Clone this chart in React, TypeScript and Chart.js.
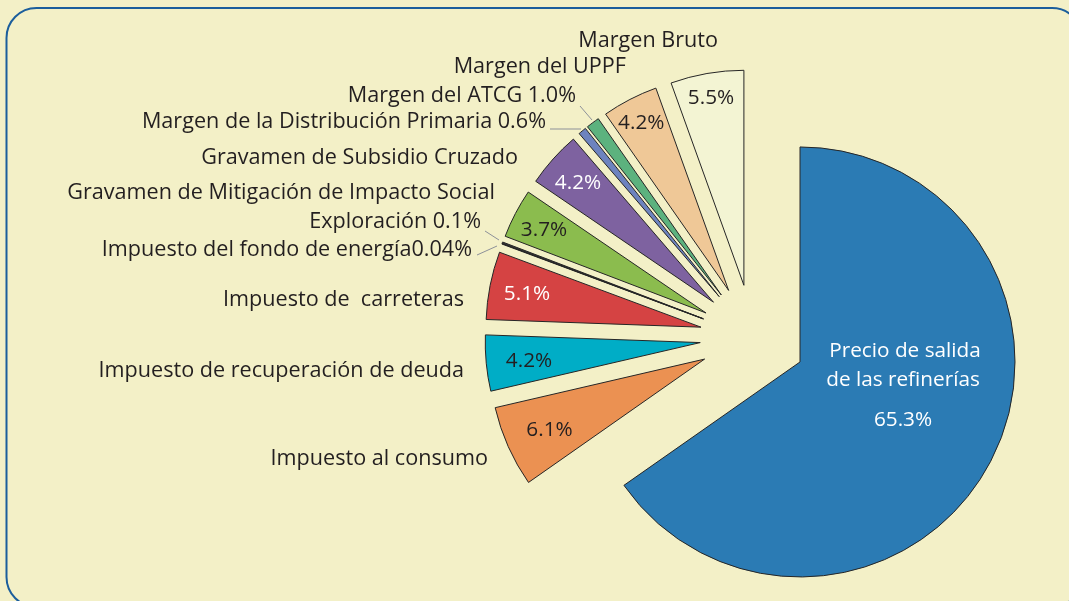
import React, { useEffect, useRef } from 'react';
import { Chart, registerables } from 'chart.js';

Chart.register(...registerables);

// ---------------- data ----------------
const categories = [
  'Precio de salida de las refinerías',
  'Impuesto al consumo',
  'Impuesto de recuperación de deuda',
  'Impuesto de  carreteras',
  'Impuesto del fondo de energía',
  'Exploración',
  'Gravamen de Mitigación de Impacto Social',
  'Gravamen de Subsidio Cruzado',
  'Margen de la Distribución Primaria',
  'Margen del ATCG',
  'Margen del UPPF',
  'Margen Bruto',
];
const shares = [65.3, 6.1, 4.2, 5.1, 0.04, 0.1, 3.7, 4.2, 0.6, 1.0, 4.2, 5.5];
const insideLabels = ['65.3%', '6.1%', '4.2%', '5.1%', '', '', '3.7%', '4.2%', '', '', '4.2%', '5.5%'];
const outsideLabels = [
  '',
  'Impuesto al consumo',
  'Impuesto de recuperación de deuda',
  'Impuesto de  carreteras',
  'Impuesto del fondo de energía0.04%',
  'Exploración 0.1%',
  'Gravamen de Mitigación de Impacto Social',
  'Gravamen de Subsidio Cruzado',
  'Margen de la Distribución Primaria 0.6%',
  'Margen del ATCG 1.0%',
  'Margen del UPPF',
  'Margen Bruto',
];
const mainLabelLines = ['Precio de salida', 'de las refinerías'];

// ---------------- styles ----------------
const SLICE_COLORS = [
  '#2b7bb4', '#eb9152', '#00adc6', '#d54343', '#2a2a2a', '#3a3a3a',
  '#8bbc4e', '#7e62a0', '#6d83bf', '#5cb27e', '#efc897', '#f3f4d3',
];
const INSIDE_TEXT_COLORS = [
  '#ffffff', '#231f20', '#231f20', '#ffffff', '', '', '#231f20', '#ffffff', '', '', '#231f20', '#231f20',
];
const LABEL_RADIUS_FRAC = [0, 0.79, 0.8, 0.825, 0, 0, 0.85, 0.845, 0, 0, 0.885, 0.89];
// right edge x / baseline y of outside labels
const OUTSIDE_POS: [number, number][] = [
  [0, 0], [488, 465], [464, 377], [464, 306], [472, 256], [481, 228],
  [495, 199], [518, 164], [546, 128], [576, 102], [626, 73], [718, 47],
];
const LEADERS: [number, number, number, number][] = [
  [580, 106, 592, 120],
  [550, 129, 581, 129],
  [485, 231, 499, 240],
  [477, 255, 497, 246],
];
const EXPLODE = 53;
const RADIUS = 215;
const BG = '#f3f0c7';
const FONT = '"Open Sans", "Noto Sans", sans-serif';

function fitSize(ctx: CanvasRenderingContext2D, text: string, width: number) {
  ctx.font = `20px ${FONT}`;
  const w = ctx.measureText(text).width;
  return (20 * width) / w;
}

const panelPlugin = {
  id: 'panel',
  beforeDraw(chart: any) {
    const ctx: CanvasRenderingContext2D = chart.ctx;
    ctx.save();
    ctx.fillStyle = BG;
    ctx.fillRect(0, 0, chart.width, chart.height);
    const x = 6.5, y = 8, w = 1075.5, h = 599, r = 30;
    ctx.beginPath();
    ctx.moveTo(x + r, y);
    ctx.lineTo(x + w - r, y);
    ctx.arcTo(x + w, y, x + w, y + r, r);
    ctx.lineTo(x + w, y + h - r);
    ctx.arcTo(x + w, y + h, x + w - r, y + h, r);
    ctx.lineTo(x + r, y + h);
    ctx.arcTo(x, y + h, x, y + h - r, r);
    ctx.lineTo(x, y + r);
    ctx.arcTo(x, y, x + r, y, r);
    ctx.closePath();
    ctx.lineWidth = 2;
    ctx.strokeStyle = '#1b5e9c';
    ctx.stroke();
    ctx.restore();
  },
};

const explodePlugin = {
  id: 'explode',
  beforeDatasetsDraw(chart: any) {
    const meta = chart.getDatasetMeta(0);
    meta.data.forEach((arc: any) => {
      if (arc.__exploded) return;
      const protoDraw = Object.getPrototypeOf(arc).draw;
      arc.draw = function (ctx: CanvasRenderingContext2D, area: any) {
        const mid = (this.startAngle + this.endAngle) / 2;
        ctx.save();
        ctx.translate(Math.cos(mid) * EXPLODE, Math.sin(mid) * EXPLODE);
        protoDraw.call(this, ctx, area);
        ctx.restore();
      };
      arc.__exploded = true;
    });
  },
};

const labelsPlugin = {
  id: 'sliceLabels',
  afterDatasetsDraw(chart: any) {
    const ctx: CanvasRenderingContext2D = chart.ctx;
    const meta = chart.getDatasetMeta(0);
    const size = fitSize(ctx, 'Gravamen de Mitigación de Impacto Social', 428);
    ctx.save();
    ctx.textBaseline = 'alphabetic';

    // leader lines
    ctx.strokeStyle = '#8d9199';
    ctx.lineWidth = 1;
    LEADERS.forEach(([x1, y1, x2, y2]) => {
      ctx.beginPath();
      ctx.moveTo(x1, y1);
      ctx.lineTo(x2, y2);
      ctx.stroke();
    });

    // outside labels
    ctx.fillStyle = '#231f20';
    ctx.textAlign = 'right';
    ctx.font = `${size}px ${FONT}`;
    outsideLabels.forEach((t, i) => {
      if (!t) return;
      const [x, y] = OUTSIDE_POS[i];
      ctx.fillText(t, x, y);
    });

    // inside labels
    ctx.textAlign = 'center';
    const pctSize = size * 0.96;
    meta.data.forEach((arc: any, i: number) => {
      const t = insideLabels[i];
      if (!t) return;
      const mid = (arc.startAngle + arc.endAngle) / 2;
      const tipX = arc.x + Math.cos(mid) * EXPLODE;
      const tipY = arc.y + Math.sin(mid) * EXPLODE;
      ctx.fillStyle = INSIDE_TEXT_COLORS[i];
      if (i === 0) {
        ctx.font = `${pctSize}px ${FONT}`;
        ctx.fillText(mainLabelLines[0], tipX + 105, tipY - 5);
        ctx.fillText(mainLabelLines[1], tipX + 103, tipY + 24);
        ctx.fillText(t, tipX + 103, tipY + 64);
        return;
      }
      const rr = LABEL_RADIUS_FRAC[i] * arc.outerRadius;
      ctx.font = `${pctSize}px ${FONT}`;
      ctx.fillText(t, tipX + Math.cos(mid) * rr, tipY + Math.sin(mid) * rr + 7.5);
    });
    ctx.restore();
  },
};

export default function App() {
  const ref = useRef<HTMLCanvasElement | null>(null);
  useEffect(() => {
    if (!ref.current) return;
    const chart = new Chart(ref.current, {
      type: 'pie',
      data: {
        labels: categories,
        datasets: [
          {
            data: shares,
            backgroundColor: SLICE_COLORS,
            borderColor: '#262626',
            borderWidth: 1,
            offset: 0,
            radius: RADIUS,
          } as any,
        ],
      },
      options: {
        animation: false,
        responsive: false,
        events: [],
        layout: { padding: { left: 437, right: 0, top: 74, bottom: 0 } },
        plugins: { legend: { display: false }, tooltip: { enabled: false } },
      } as any,
      plugins: [panelPlugin, explodePlugin, labelsPlugin],
    });
    return () => chart.destroy();
  }, []);
  return (
    <div style={{ position: 'fixed', left: 0, top: 0, width: 1069, height: 601, background: BG, overflow: 'hidden' }}>
      <canvas ref={ref} width={1069} height={601} style={{ display: 'block', width: 1069, height: 601 }} />
    </div>
  );
}
